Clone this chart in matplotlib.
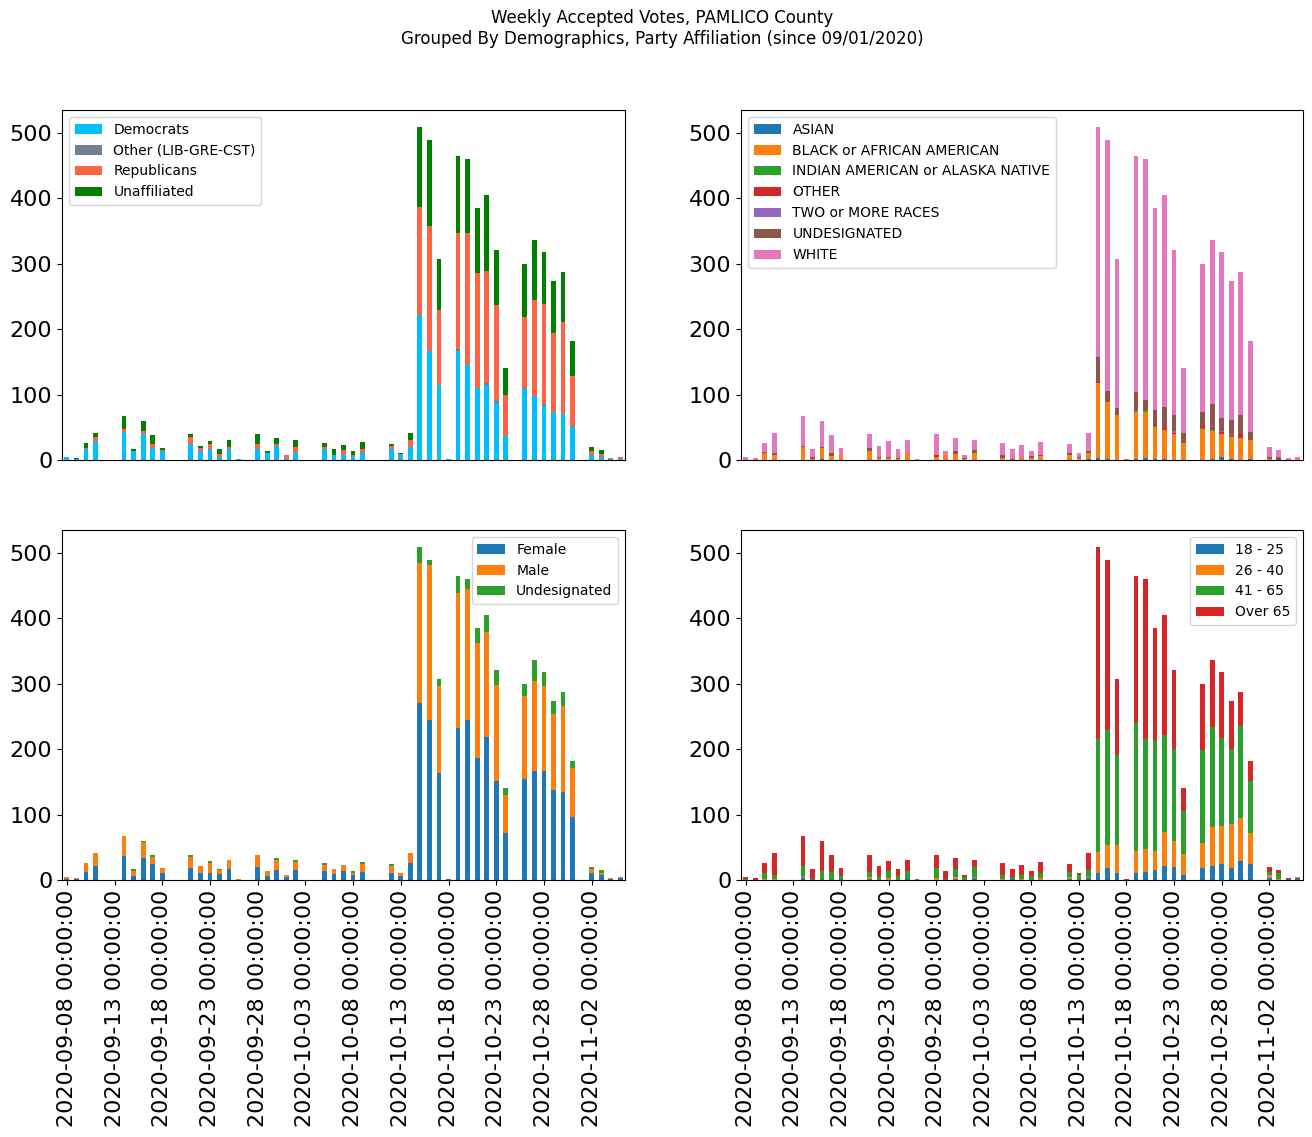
import matplotlib
matplotlib.use("Agg")
import matplotlib.pyplot as plt
import numpy as np
import pandas as pd

dates = pd.date_range("2020-09-08", "2020-11-05", freq="D")

# party affiliation
dem = [5, 2, 17, 29, 0, 0, 43, 14, 39, 19,
       14, 0, 0, 25, 14, 17, 5, 17, 2, 0,
       17, 11, 22, 2, 11, 0, 0, 17, 8, 7,
       6, 11, 0, 0, 17, 8, 20, 222, 167, 115,
       2, 167, 145, 110, 115, 87, 37, 0, 108, 98,
       83, 74, 71, 51, 0, 7, 5, 1, 1]
oth_party = [0, 0, 0, 0, 0, 0, 0, 0, 1, 0,
             0, 0, 0, 0, 0, 0, 0, 0, 0, 0,
             0, 0, 0, 0, 0, 0, 0, 0, 0, 0,
             0, 0, 0, 0, 0, 0, 0, 0, 0, 0,
             0, 2, 0, 0, 2, 3, 0, 0, 2, 0,
             3, 0, 0, 1, 0, 0, 0, 0, 0]
rep = [0, 0, 1, 6, 0, 0, 5, 0, 4, 6,
       2, 0, 0, 10, 4, 8, 4, 3, 0, 0,
       8, 0, 3, 6, 9, 0, 0, 3, 0, 8,
       2, 6, 0, 0, 4, 1, 10, 164, 190, 114,
       0, 177, 201, 175, 172, 146, 63, 0, 108, 147,
       153, 120, 140, 76, 0, 7, 4, 2, 3]
una = [0, 1, 8, 6, 0, 0, 20, 3, 15, 13,
       2, 0, 0, 4, 4, 4, 8, 10, 0, 0,
       14, 3, 8, 0, 10, 0, 0, 6, 9, 8,
       6, 10, 0, 0, 3, 2, 12, 123, 132, 78,
       0, 119, 113, 100, 116, 84, 41, 0, 82, 91,
       78, 80, 76, 54, 0, 6, 6, 0, 0]

# race
asian = [0, 0, 0, 0, 0, 0, 0, 0, 1, 0,
         0, 0, 0, 0, 0, 0, 0, 0, 0, 0,
         0, 0, 0, 0, 0, 0, 0, 0, 0, 0,
         0, 0, 0, 0, 0, 0, 1, 3, 2, 0,
         0, 2, 3, 1, 1, 0, 0, 0, 0, 1,
         4, 1, 0, 1, 0, 0, 0, 0, 0]
black = [1, 1, 11, 8, 0, 0, 20, 2, 17, 6,
         8, 0, 0, 14, 3, 3, 2, 11, 0, 0,
         5, 8, 9, 1, 11, 0, 0, 3, 0, 5,
         3, 6, 0, 0, 8, 3, 10, 115, 87, 69,
         2, 72, 71, 50, 45, 40, 26, 0, 48, 44,
         36, 34, 34, 30, 0, 1, 0, 1, 1]
indian = [0, 0, 0, 0, 0, 0, 0, 0, 0, 0,
          0, 0, 0, 0, 1, 0, 0, 0, 0, 0,
          0, 0, 0, 0, 0, 0, 0, 0, 0, 0,
          0, 0, 0, 0, 0, 0, 0, 0, 0, 0,
          0, 0, 2, 1, 0, 0, 0, 0, 1, 3,
          0, 1, 0, 0, 0, 0, 0, 0, 0]
oth_race = [0, 0, 0, 0, 0, 0, 0, 0, 0, 0,
            0, 0, 0, 0, 0, 0, 0, 0, 0, 0,
            3, 0, 0, 0, 0, 0, 0, 0, 0, 0,
            0, 0, 0, 0, 0, 0, 0, 2, 0, 0,
            0, 0, 1, 1, 3, 1, 0, 0, 4, 3,
            3, 2, 6, 0, 0, 0, 0, 0, 0]
two = [0, 0, 0, 0, 0, 0, 0, 0, 0, 0,
       0, 0, 0, 0, 0, 0, 0, 0, 0, 0,
       0, 0, 0, 0, 0, 0, 0, 0, 0, 0,
       0, 0, 0, 0, 0, 0, 0, 0, 0, 0,
       0, 1, 0, 0, 0, 4, 0, 0, 0, 1,
       2, 1, 0, 0, 0, 0, 0, 0, 0]
undes_race = [0, 0, 2, 3, 0, 0, 1, 3, 2, 5,
              0, 0, 0, 4, 0, 2, 1, 0, 0, 0,
              0, 0, 5, 2, 4, 0, 0, 5, 2, 0,
              3, 2, 0, 0, 3, 2, 3, 37, 17, 11,
              0, 29, 15, 24, 32, 24, 16, 0, 21, 34,
              19, 22, 29, 12, 0, 4, 5, 0, 0]
white = [4, 2, 13, 30, 0, 0, 47, 12, 39, 27,
         10, 0, 0, 21, 18, 24, 14, 19, 2, 0,
         31, 6, 19, 5, 15, 0, 0, 18, 15, 18,
         8, 19, 0, 0, 13, 6, 28, 352, 383, 227,
         0, 361, 367, 308, 324, 251, 99, 0, 226, 250,
         253, 213, 218, 139, 0, 15, 10, 2, 3]

# gender
female = [1, 2, 13, 22, 0, 0, 37, 6, 34, 24,
          11, 0, 0, 18, 11, 11, 9, 17, 0, 0,
          20, 6, 15, 5, 15, 0, 0, 14, 9, 14,
          8, 12, 0, 0, 11, 6, 26, 270, 245, 164,
          2, 232, 245, 187, 219, 151, 72, 0, 154, 167,
          167, 138, 135, 96, 0, 11, 8, 2, 3]
male = [4, 1, 13, 19, 0, 0, 30, 8, 24, 11,
        7, 0, 0, 17, 11, 15, 6, 13, 2, 0,
        19, 8, 15, 3, 12, 0, 0, 9, 8, 9,
        3, 12, 0, 0, 10, 5, 15, 214, 236, 133,
        0, 207, 199, 175, 160, 147, 58, 0, 127, 137,
        130, 116, 131, 75, 0, 6, 3, 1, 1]
undes_gender = [0, 0, 0, 0, 0, 0, 1, 3, 1, 3,
                0, 0, 0, 4, 0, 3, 2, 0, 0, 0,
                0, 0, 3, 0, 3, 0, 0, 3, 0, 0,
                3, 3, 0, 0, 3, 0, 1, 25, 8, 10,
                0, 26, 15, 23, 26, 22, 11, 0, 19, 32,
                20, 20, 21, 11, 0, 3, 4, 0, 0]

# age
age_18_25 = [0, 0, 0, 0, 0, 0, 3, 0, 0, 0,
             1, 0, 0, 2, 0, 0, 0, 2, 0, 0,
             0, 0, 2, 0, 3, 0, 0, 0, 1, 0,
             0, 0, 0, 0, 2, 0, 3, 11, 18, 11,
             0, 11, 13, 15, 21, 20, 8, 0, 18, 21,
             24, 18, 29, 24, 0, 3, 0, 1, 3]
age_26_40 = [0, 0, 2, 2, 0, 0, 2, 0, 0, 0,
             0, 0, 0, 3, 0, 3, 0, 0, 0, 0,
             3, 0, 3, 0, 2, 0, 0, 2, 0, 2,
             0, 3, 0, 0, 3, 0, 2, 32, 35, 43,
             0, 33, 34, 29, 52, 40, 32, 0, 39, 60,
             58, 68, 66, 48, 0, 5, 2, 0, 1]
age_41_65 = [1, 0, 9, 6, 0, 0, 17, 2, 14, 13,
             5, 0, 0, 8, 5, 11, 6, 12, 2, 0,
             15, 1, 12, 5, 15, 0, 0, 6, 4, 6,
             6, 8, 0, 0, 7, 8, 10, 172, 176, 137,
             0, 196, 168, 168, 148, 140, 66, 0, 142, 153,
             135, 114, 141, 80, 0, 4, 9, 0, 0]
age_over_65 = [4, 3, 15, 33, 0, 0, 46, 15, 45, 25,
               12, 0, 0, 26, 17, 15, 11, 16, 0, 0,
               21, 13, 16, 3, 10, 0, 0, 18, 12, 15,
               8, 16, 0, 0, 12, 3, 27, 294, 260, 116,
               2, 225, 244, 173, 184, 120, 35, 0, 101, 102,
               100, 74, 51, 30, 0, 8, 4, 2, 0]


def stacked(ax, series, labels, colors, loc):
    x = np.arange(len(dates))
    bottom = np.zeros(len(dates))
    for vals, lab, col in zip(series, labels, colors):
        vals = np.array(vals, dtype=float)
        ax.bar(x, vals, width=0.5, bottom=bottom, color=col, label=lab, linewidth=0)
        bottom += vals
    ax.set_xlim(-0.5, len(dates) - 0.5)
    ax.set_ylim(0, bottom.max() * 1.05)
    ax.tick_params(axis='both', labelsize=16)
    ax.legend(loc=loc, fontsize=10)


fig = plt.figure(figsize=(13.12, 11.37), dpi=100)
w, h = 0.4291, 0.3078
ax1 = fig.add_axes([0.0473, 0.5954, w, h])
ax2 = fig.add_axes([0.5648, 0.5954, 0.4280, h])
ax3 = fig.add_axes([0.0473, 0.2260, w, h])
ax4 = fig.add_axes([0.5648, 0.2260, 0.4280, h])

stacked(ax1, [dem, oth_party, rep, una],
        ["Democrats", "Other (LIB-GRE-CST)", "Republicans", "Unaffiliated"],
        ["deepskyblue", "slategray", "tomato", "green"], "upper left")
stacked(ax2, [asian, black, indian, oth_race, two, undes_race, white],
        ["ASIAN", "BLACK or AFRICAN AMERICAN", "INDIAN AMERICAN or ALASKA NATIVE",
         "OTHER", "TWO or MORE RACES", "UNDESIGNATED", "WHITE"],
        ["tab:blue", "tab:orange", "tab:green", "tab:red", "tab:purple", "tab:brown", "tab:pink"],
        "upper left")
stacked(ax3, [female, male, undes_gender], ["Female", "Male", "Undesignated"],
        ["tab:blue", "tab:orange", "tab:green"], "upper right")
stacked(ax4, [age_18_25, age_26_40, age_41_65, age_over_65],
        ["18 - 25", "26 - 40", "41 - 65", "Over 65"],
        ["tab:blue", "tab:orange", "tab:green", "tab:red"], "upper right")

for ax in (ax1, ax2):
    ax.set_xticks([])

tick_pos = np.arange(0, len(dates), 5)
for ax in (ax3, ax4):
    ax.set_xticks(tick_pos)
    ax.set_xticklabels([str(dates[i]) for i in tick_pos], rotation=90)

fig.suptitle("Weekly Accepted Votes, PAMLICO County\n"
             "Grouped By Demographics, Party Affiliation (since 09/01/2020)",
             x=0.505, y=0.992, fontsize=12)

fig.savefig("out.png", dpi=100)
